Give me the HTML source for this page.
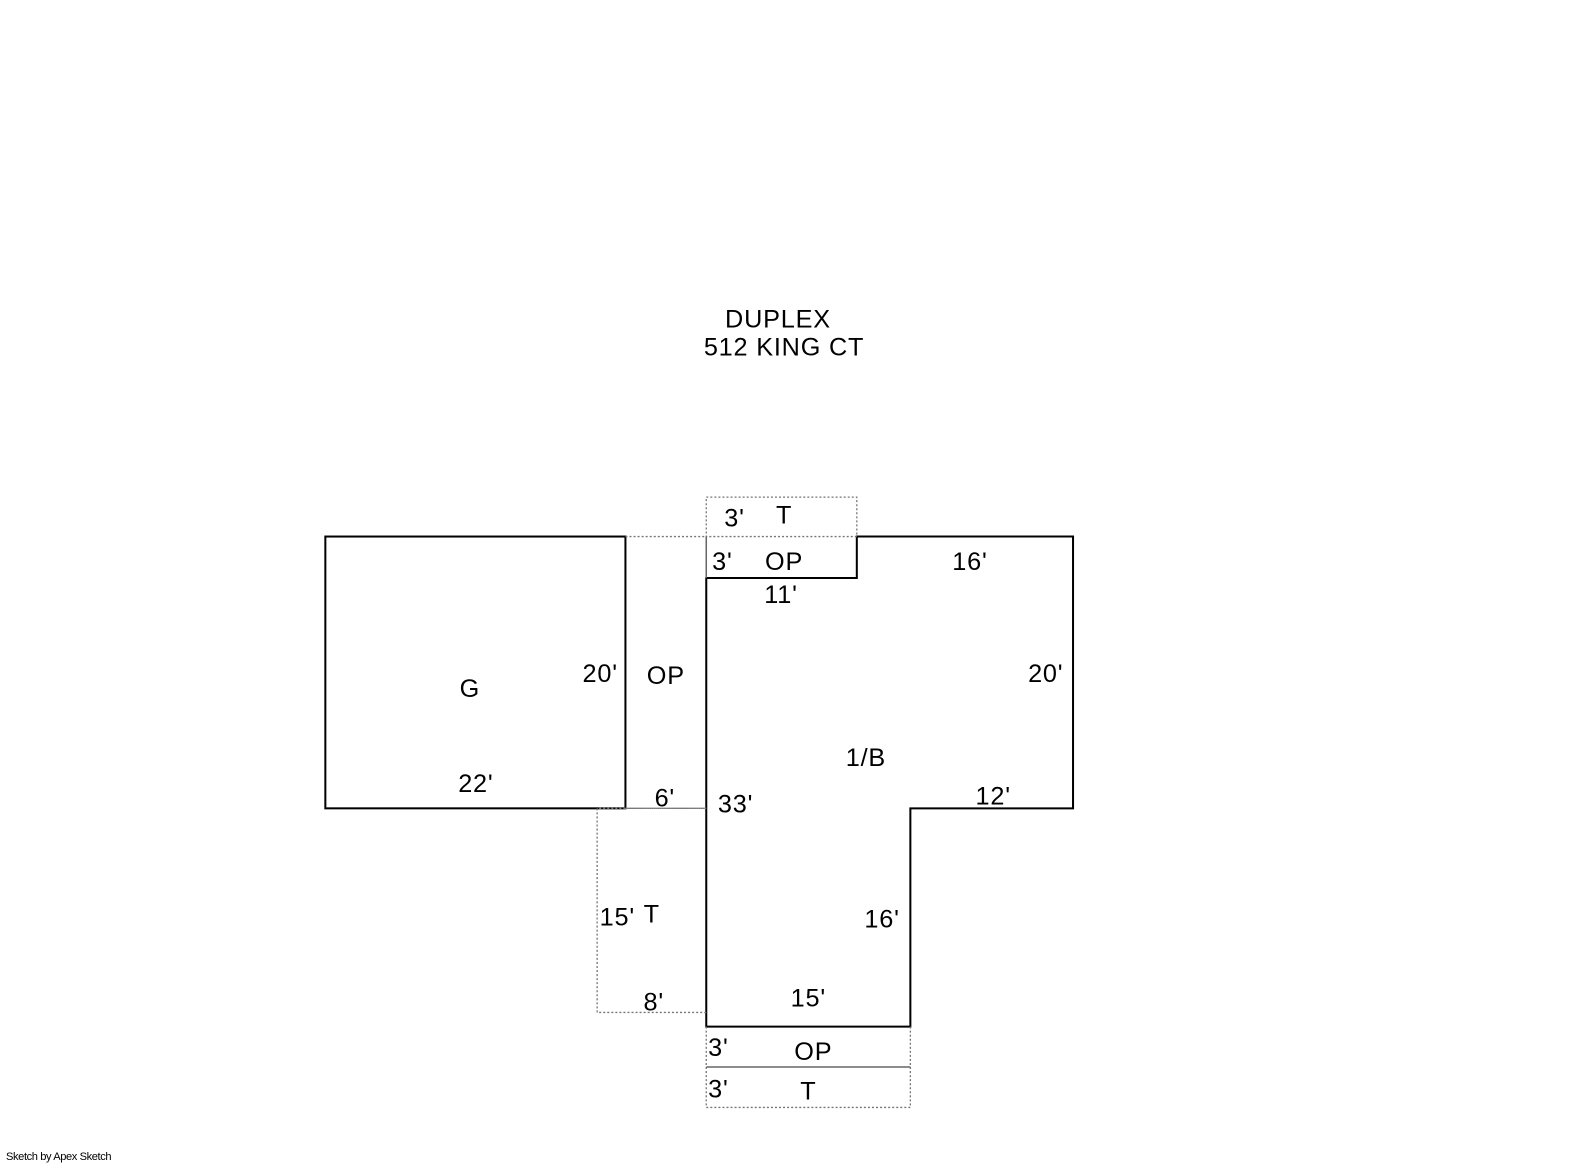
<!DOCTYPE html>
<html><head><meta charset="utf-8"><style>
html,body{margin:0;padding:0;background:#fff;width:1585px;height:1163px;overflow:hidden}
svg{display:block}
text{font-family:"Liberation Sans","DejaVu Sans",sans-serif;fill:#000;text-anchor:middle}
</style></head><body>
<svg width="1585" height="1163" viewBox="0 0 1568.7 1151" preserveAspectRatio="none">
<g fill="none" stroke="#000" stroke-width="2">
<rect x="322" y="531" width="297" height="269"/>
<polygon points="699,572 848,572 848,531 1062,531 1062,800 901,800 901,1016 699,1016"/>
</g>
<g fill="none" stroke="#777" stroke-width="1.3" stroke-dasharray="2,2">
<rect x="699" y="492" width="149" height="39"/>
<line x1="619" y1="531" x2="699" y2="531"/>
<line x1="619" y1="800" x2="699" y2="800"/>
<polyline points="699,800 591,800 591,1002 699,1002"/>
<line x1="699" y1="1016" x2="699" y2="1096"/>
<line x1="901" y1="1016" x2="901" y2="1096"/>
<line x1="699" y1="1096" x2="901" y2="1096"/>
</g>
<line x1="699" y1="531" x2="699" y2="572" stroke="#666" stroke-width="1.5"/>
<line x1="699" y1="1056" x2="901" y2="1056" stroke="#666" stroke-width="1.5"/>
<g font-size="25" style="letter-spacing:0.8px">
<text x="770" y="324">DUPLEX</text>
<text x="776" y="352">512 KING CT</text>
<text x="727" y="521">3'</text><text x="776" y="518">T</text>
<text x="715" y="564">3'</text><text x="776" y="564">OP</text>
<text x="960" y="564">16'</text>
<text x="773" y="597">11'</text>
<text x="465" y="690">G</text>
<text x="594" y="675">20'</text>
<text x="659" y="677">OP</text>
<text x="1035" y="675">20'</text>
<text x="857" y="758">1/B</text>
<text x="471" y="784">22'</text>
<text x="658" y="798">6'</text>
<text x="728" y="804">33'</text>
<text x="983" y="796">12'</text>
<text x="611" y="916">15'</text><text x="645" y="913">T</text>
<text x="873" y="918">16'</text>
<text x="647" y="1000">8'</text>
<text x="800" y="996">15'</text>
<text x="711" y="1045">3'</text><text x="805" y="1049">OP</text>
<text x="711" y="1086">3'</text><text x="800" y="1088">T</text>
</g>
<text x="58" y="1148" font-size="11" style="letter-spacing:-0.4px">Sketch by Apex Sketch</text>
</svg>
</body></html>
